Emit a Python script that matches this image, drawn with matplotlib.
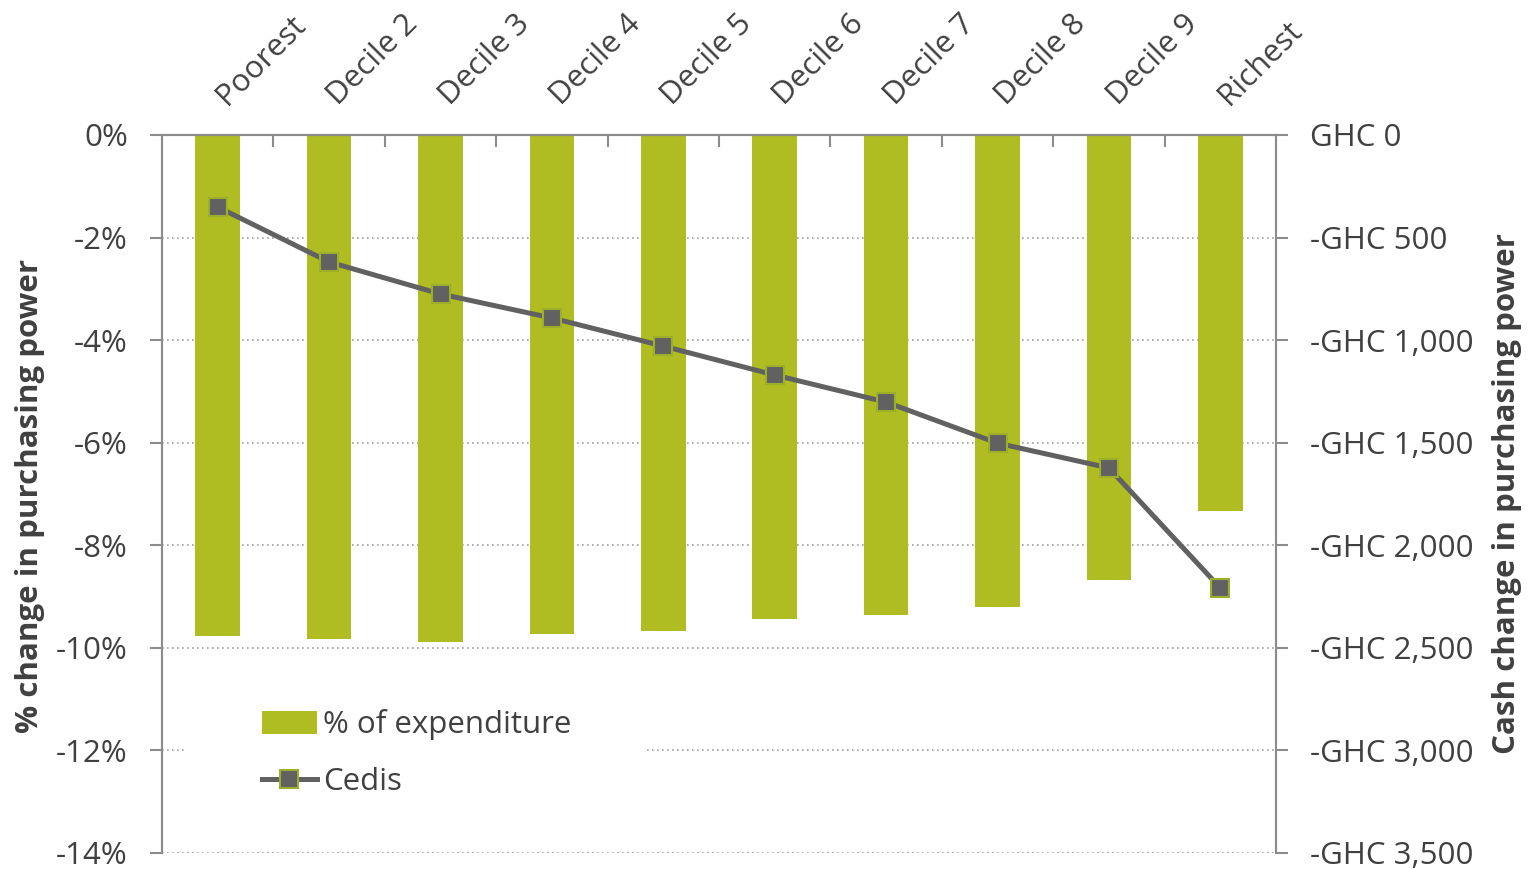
import matplotlib
matplotlib.use("Agg")
import matplotlib.pyplot as plt
from matplotlib.ticker import FuncFormatter, FixedLocator
from matplotlib.patches import Rectangle
import matplotlib.transforms as mtransforms
import numpy as np

plt.rcParams['font.family'] = ['Open Sans', 'DejaVu Sans']

categories = ["Poorest", "Decile 2", "Decile 3", "Decile 4", "Decile 5",
              "Decile 6", "Decile 7", "Decile 8", "Decile 9", "Richest"]
pct_expenditure = [-9.77, -9.83, -9.88, -9.73, -9.67, -9.44, -9.36, -9.20, -8.68, -7.33]
cedis = [-351, -619, -775, -892, -1029, -1170, -1302, -1502, -1623, -2208]
left_ticks = [0, -2, -4, -6, -8, -10, -12, -14]
right_ticks = [0, -500, -1000, -1500, -2000, -2500, -3000, -3500]

BAR = "#AFBD22"
LINE = "#616161"
TXT = "#404040"
AX = "#8C8C8C"
FS = 22.5

W, H = 1533, 869
fig = plt.figure(figsize=(W/100, H/100), dpi=100)
ax = fig.add_axes([162/W, 1-853/H, (1276-162)/W, (853-135)/H])
x = np.arange(len(categories))
ax.bar(x, pct_expenditure, width=0.4, color=BAR, label="% of expenditure", zorder=2)
ax.set_xlim(-0.5, len(categories)-0.5)
ax.set_ylim(-14, 0)
ax.set_yticks(left_ticks)
ax.yaxis.set_major_formatter(FuncFormatter(lambda v, p: f"{v:.0f}%"))
ax.set_axisbelow(True)
ax.grid(axis='y', linestyle=(0, (1, 2)), color="#A0A0A0", linewidth=1.2)
ax.tick_params(axis='y', direction='out', length=8.6, width=1.5, color=AX,
               labelsize=FS, labelcolor=TXT, pad=16)
ax.xaxis.tick_top()
ax.set_xticks(x)
ax.set_xticklabels(categories, rotation=45, ha='left', va='baseline',
                   rotation_mode='anchor', fontsize=FS, color=TXT)
ax.tick_params(axis='x', which='major', length=0, pad=21)
shift = mtransforms.ScaledTranslation(9/100, 0, fig.dpi_scale_trans)
for lbl in ax.get_xticklabels():
    lbl.set_transform(lbl.get_transform() + shift)
ax.xaxis.set_minor_locator(FixedLocator(np.arange(0.5, len(categories)-0.5, 1.0)))
ax.tick_params(axis='x', which='minor', direction='in', length=8.6, width=1.5, color=AX, top=True, bottom=False)
for s in ['left', 'top', 'right']:
    ax.spines[s].set_color(AX)
    ax.spines[s].set_linewidth(1.5)
ax.spines['bottom'].set_visible(False)
ax.set_ylabel("% change in purchasing power", fontsize=FS, fontweight='bold', color=TXT)
ax.yaxis.set_label_coords((45-162)/1114, 0.497)

# white legend background box (hides gridline behind legend)
ax.add_patch(Rectangle((185/W, 1-812/H), (645-185)/W, (812-694)/H, transform=fig.transFigure,
                       facecolor='white', edgecolor='none', zorder=1.5))

ax2 = ax.twinx()
ax2.plot(x, cedis, color=LINE, linewidth=3.6, marker='s', markersize=13,
         markerfacecolor=LINE, markeredgecolor="#9DAE2A", markeredgewidth=1.5,
         label="Cedis", zorder=3)
ax2.set_ylim(-3500, 0)
ax2.set_yticks(right_ticks)
ax2.yaxis.set_major_formatter(FuncFormatter(lambda v, p: "GHC 0" if v == 0 else f"-GHC {abs(v):,.0f}"))
ax2.tick_params(axis='y', direction='out', length=8.6, width=1.5, color=AX,
                labelsize=FS, labelcolor=TXT, pad=16)
for s in ['left', 'top', 'right']:
    ax2.spines[s].set_color(AX)
    ax2.spines[s].set_linewidth(1.5)
ax2.spines['bottom'].set_visible(False)
ax2.set_ylabel("Cash change in purchasing power", fontsize=FS, fontweight='bold', color=TXT)
ax2.yaxis.set_label_coords((1492-162)/1114, 0.5)

h1, l1 = ax.get_legend_handles_labels()
h2, l2 = ax2.get_legend_handles_labels()
leg = ax2.legend(h1 + h2, l1 + l2, loc='upper left', bbox_to_anchor=(262/W, 1-709/H),
                 bbox_transform=fig.transFigure, frameon=False, fontsize=FS,
                 handlelength=1.75, handleheight=0.75, handletextpad=0.2, labelspacing=0.88,
                 borderpad=0.0, borderaxespad=0, labelcolor=TXT)

fig.savefig("out.png", dpi=100)
